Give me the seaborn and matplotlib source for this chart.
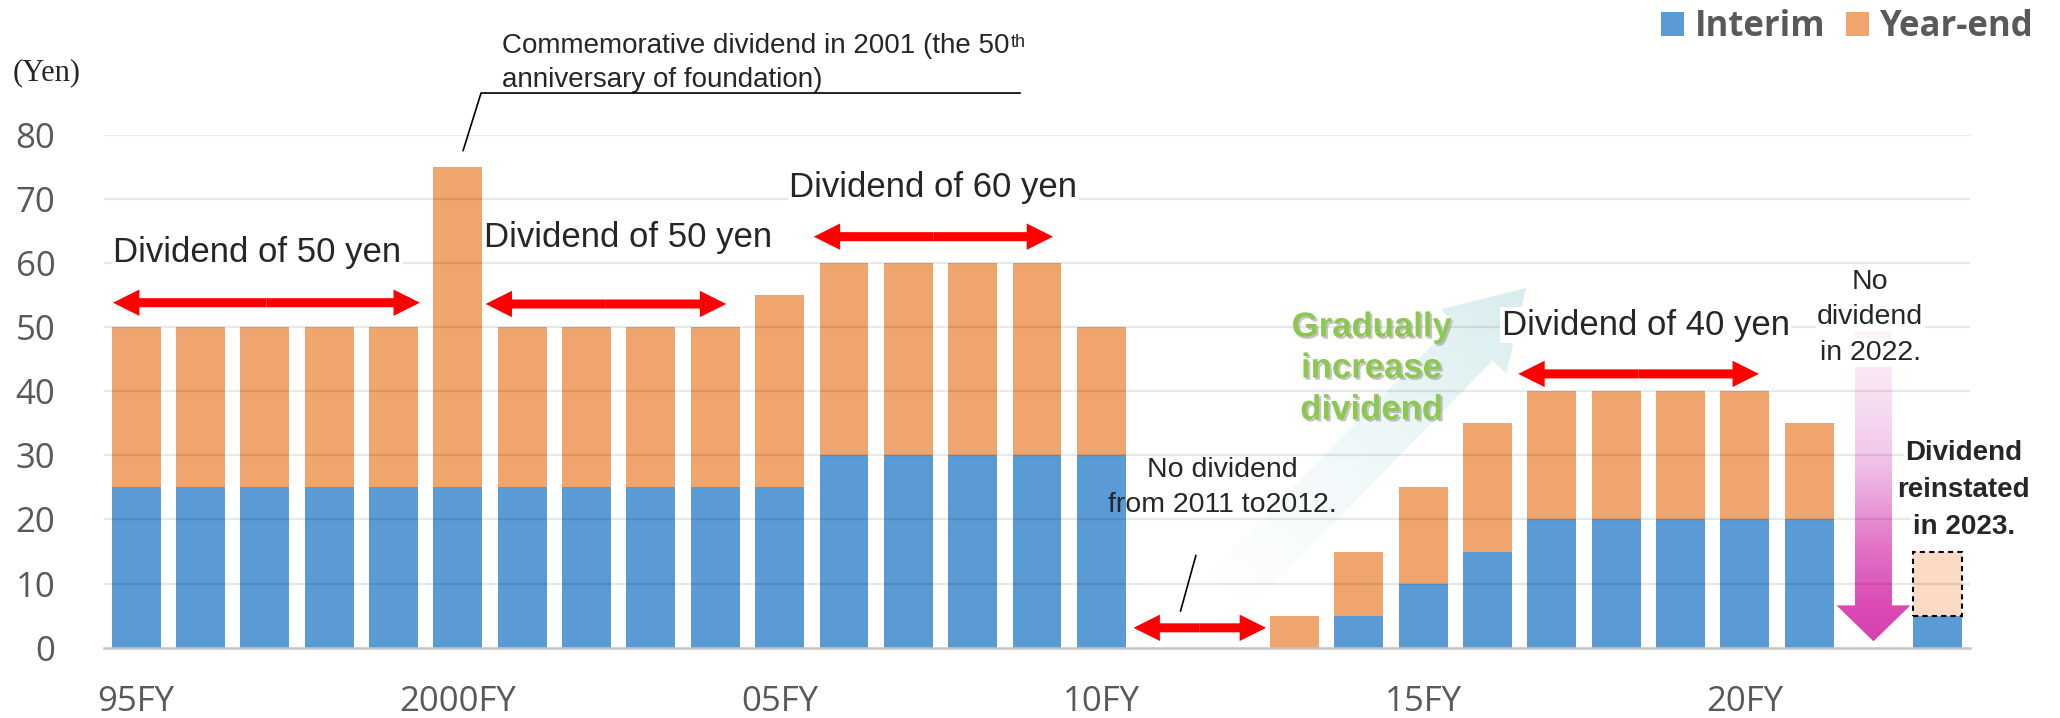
import numpy as np
import pandas as pd
import matplotlib
matplotlib.use("Agg")
import matplotlib.pyplot as plt
import seaborn as sns
from matplotlib.patches import Polygon, FancyArrowPatch, ArrowStyle, Patch
from matplotlib.font_manager import FontProperties
from matplotlib.colors import LinearSegmentedColormap, to_rgb
import matplotlib.patheffects as pe

# ---------------- data ----------------
fiscal_years = ["1995", "1996", "1997", "1998", "1999", "2000", "2001", "2002",
                "2003", "2004", "2005", "2006", "2007", "2008", "2009", "2010",
                "2011", "2012", "2013", "2014", "2015", "2016", "2017", "2018",
                "2019", "2020", "2021", "2022", "2023"]
interim = [25, 25, 25, 25, 25, 25, 25, 25, 25, 25, 25, 30, 30, 30, 30, 30,
           0, 0, 0, 5, 10, 15, 20, 20, 20, 20, 20, 0, 5]
year_end = [25, 25, 25, 25, 25, 50, 25, 25, 25, 25, 30, 30, 30, 30, 30, 20,
            0, 0, 5, 10, 15, 20, 20, 20, 20, 20, 15, 0, 0]
year_end_forecast = [0, 0, 0, 0, 0, 0, 0, 0, 0, 0, 0, 0, 0, 0, 0, 0,
                     0, 0, 0, 0, 0, 0, 0, 0, 0, 0, 0, 0, 10]
tick_years = ["1995", "2000", "2005", "2010", "2015", "2020"]
tick_labels = ["95FY", "2000FY", "05FY", "10FY", "15FY", "20FY"]
y_ticks = [0, 10, 20, 30, 40, 50, 60, 70, 80]
legend_labels = ["Interim", "Year-end"]

BLUE = "#5B9BD5"
ORANGE = "#F0A46E"
PEACH = "#FDDAC4"
GRAY_TXT = "#595959"
RED = "#FF0000"
GREEN = "#8CC850"

# ---------------- style ----------------
sns.set_style("white")
plt.rcParams["font.family"] = ["Liberation Sans", "DejaVu Sans"]

W, H = 2060, 718
fig = plt.figure(figsize=(W / 100, H / 100), dpi=100)
ax = fig.add_axes([104 / W, 1 - 647.7 / H, (1970 - 104) / W, (647.7 - 134.7) / H])

df = pd.DataFrame({"fy": fiscal_years, "interim": interim, "year_end": year_end})
df["total"] = df["interim"] + df["year_end"]

sns.barplot(data=df, x="fy", y="total", order=fiscal_years, color=ORANGE,
            saturation=1, width=0.76, errorbar=None, linewidth=0, ax=ax)
sns.barplot(data=df, x="fy", y="interim", order=fiscal_years, color=BLUE,
            saturation=1, width=0.76, errorbar=None, linewidth=0, ax=ax)
for p in ax.patches:
    p.set_zorder(1)

# forecast (dashed) year-end bar
pos = np.arange(len(fiscal_years))
fc = np.array(year_end_forecast, dtype=float)
mask = fc > 0
ax.bar(pos[mask], fc[mask], bottom=np.array(interim)[mask], width=0.76,
       facecolor=PEACH, edgecolor="black", linewidth=1.5,
       linestyle=(0, (2.5, 2)), zorder=1.2)

ax.set_xlim(-0.5, len(fiscal_years) - 0.5)
ax.set_ylim(0, 80)
ax.set_xlabel("")
ax.set_ylabel("")
ax.set_xticks([fiscal_years.index(y) for y in tick_years])
ax.set_xticklabels(tick_labels)
ax.set_yticks(y_ticks)
ax.set_yticklabels([str(v) for v in y_ticks])
ax.tick_params(axis="both", length=0, labelsize=25, labelcolor=GRAY_TXT)
ax.tick_params(axis="x", pad=27)
ax.tick_params(axis="y", pad=35)
for lab in ax.get_xticklabels() + ax.get_yticklabels():
    lab.set_fontfamily("Open Sans")

for s in ["left", "right", "top"]:
    ax.spines[s].set_visible(False)
ax.spines["bottom"].set_color("#C4C4C4")
ax.spines["bottom"].set_linewidth(1.8)
ax.set_axisbelow(False)
ax.yaxis.grid(True, color="black", alpha=0.09, linewidth=1.6)
ax.xaxis.grid(False)
ax.yaxis.get_gridlines()[0].set_visible(False)

# ---------------- gradient arrows ----------------
def data_to_px(x, y):
    return ax.transData.transform((x, y))

# light cyan "gradually increase" arrow
tail = data_to_px(17.0, 9.0)
tip = data_to_px(21.6, 56.1)
vec = tip - tail
L = np.hypot(*vec)
u = vec / L
n = np.array([-u[1], u[0]])
base = tip - u * 75
hs, hh = 27, 46
verts_px = [tail + n * hs, base + n * hs, base + n * hh, tip,
            base - n * hh, base - n * hs, tail - n * hs]
verts_d = ax.transData.inverted().transform(np.array(verts_px))
cyan_poly = Polygon(verts_d, closed=True, facecolor="none", edgecolor="none",
                    zorder=0.8)
ax.add_patch(cyan_poly)
x0, y0 = verts_d.min(axis=0)
x1, y1 = verts_d.max(axis=0)
gx, gy = np.meshgrid(np.linspace(x0, x1, 300), np.linspace(y0, y1, 300))
pts = ax.transData.transform(np.column_stack([gx.ravel(), gy.ravel()]))
t = ((pts - tail) @ u / L).reshape(gx.shape)
t = np.clip(t, 0, 1)
rgba = np.zeros(gx.shape + (4,))
rgba[..., :3] = to_rgb("#D3EBEC")
rgba[..., 3] = 0.05 + 0.85 * t ** 1.3
im = ax.imshow(rgba, extent=[x0, x1, y0, y1], origin="lower", aspect="auto",
               zorder=0.8, interpolation="bilinear")
im.set_clip_path(cyan_poly)

# pink "no dividend in 2022" arrow
xc = fiscal_years.index("2022")
p_hs, p_hh, p_head, p_tip, p_top = 0.287, 0.575, 6.6, 1.0, 50.0
pink_verts = [(xc - p_hs, p_top), (xc - p_hs, p_head), (xc - p_hh, p_head),
              (xc, p_tip), (xc + p_hh, p_head), (xc + p_hs, p_head),
              (xc + p_hs, p_top)]
pink_poly = Polygon(pink_verts, closed=True, facecolor="none",
                    edgecolor="none", zorder=2)
ax.add_patch(pink_poly)
pink_cmap = LinearSegmentedColormap.from_list(
    "pink", [(0, "#D641AE"), (0.12, "#DA4CB4"), (0.3, "#E273C6"),
             (0.45, "#EAA2DA"), (0.6, "#F2C9EA"), (0.8, "#F8E3F4"),
             (1.0, "#FDF5FB")])
grad = np.linspace(0, 1, 256).reshape(-1, 1)
im2 = ax.imshow(grad, cmap=pink_cmap, extent=[xc - p_hh, xc + p_hh, p_tip, p_top],
                origin="lower", aspect="auto", zorder=2, interpolation="bilinear")
im2.set_clip_path(pink_poly)

ax.set_xlim(-0.5, len(fiscal_years) - 0.5)
ax.set_ylim(0, 80)

# ---------------- red double arrows ----------------
def red_double_arrow(xa, xb, y):
    xm = (xa + xb) / 2
    style = ArrowStyle.Simple(head_length=19, head_width=19, tail_width=6.5)
    for xe in (xa, xb):
        a = FancyArrowPatch((xm, y), (xe, y), arrowstyle=style, mutation_scale=1,
                            color=RED, linewidth=0, shrinkA=0, shrinkB=0,
                            zorder=4, clip_on=False)
        ax.add_patch(a)

red_double_arrow(-0.36, 4.41, 53.8)
red_double_arrow(5.43, 9.17, 53.6)
red_double_arrow(10.53, 14.25, 64.1)
red_double_arrow(21.48, 25.22, 42.7)
red_double_arrow(15.5, 17.56, 3.1)

# ---------------- texts ----------------
wbox = dict(facecolor="white", edgecolor="none", pad=1)
ax.text(-0.36, 61.6, "Dividend of 50 yen", fontsize=25, va="center", ha="left",
        bbox=wbox, zorder=3)
ax.text(5.41, 63.9, "Dividend of 50 yen", fontsize=25, va="center", ha="left",
        bbox=wbox, zorder=3)
ax.text(10.15, 71.7, "Dividend of 60 yen", fontsize=25, va="center", ha="left",
        bbox=wbox, zorder=3)
ax.text(21.22, 50.3, "Dividend of 40 yen", fontsize=25, va="center", ha="left",
        bbox=wbox, zorder=3)

ax.text(16.88, 27.7, "No dividend", fontsize=20.5, va="center", ha="center",
        bbox=wbox, zorder=3)
ax.text(16.88, 22.3, "from 2011 to2012.", fontsize=20.5, va="center",
        ha="center", zorder=3)
ax.plot([16.23, 16.47], [5.7, 14.4], color="black", linewidth=1.2, zorder=4)

shadow = [pe.withSimplePatchShadow(offset=(1.5, -1.5), shadow_rgbFace="#7f7f7f",
                                   alpha=0.45)]
for txt, yy in [("Gradually", 50.0), ("increase", 43.6), ("dividend", 37.1)]:
    ax.text(19.2, yy, txt, fontsize=25, fontweight="bold", color=GREEN,
            va="center", ha="center", zorder=3, path_effects=shadow)

for txt, yy in [("No", 57.0), ("dividend", 51.6), ("in 2022.", 46.0)]:
    ax.text(26.95, yy, txt, fontsize=20.5, va="center", ha="center", zorder=3,
            bbox=wbox, clip_on=False)

for txt, yy in [("Dividend", 30.3), ("reinstated", 24.6), ("in 2023.", 18.8)]:
    ax.text(28.4, yy, txt, fontsize=20, fontweight="bold", va="center",
            ha="center", zorder=3, bbox=wbox, clip_on=False)

# commemorative note
t1 = ax.text(5.68, 93.9, "Commemorative dividend in 2001 (the 50", fontsize=20,
             va="center", ha="left", clip_on=False)
ax.annotate("th", xy=(1, 1), xycoords=t1, xytext=(1, -1),
            textcoords="offset points", fontsize=13, va="top", ha="left")
ax.text(5.68, 88.5, "anniversary of foundation)", fontsize=20, va="center",
        ha="left", clip_on=False)
ax.plot([5.08, 5.36, 13.74], [77.5, 86.5, 86.5], color="black", linewidth=1.2,
        clip_on=False, zorder=4)

# unit label
fig.text(13 / W, 1 - 73 / H, "(Yen)", fontsize=22, family="Liberation Serif",
         va="center", ha="left")

# legend
handles = [Patch(facecolor=BLUE, edgecolor="none"),
           Patch(facecolor=ORANGE, edgecolor="none")]
fig.legend(handles, legend_labels, loc="upper right",
           bbox_to_anchor=(2034 / W, 1 - 9 / H), ncol=2, frameon=False,
           prop=FontProperties(family="Open Sans", weight="bold", size=25),
           labelcolor=GRAY_TXT, handlelength=0.66, handleheight=0.66,
           handletextpad=0.32, columnspacing=0.6, borderpad=0, borderaxespad=0)

fig.savefig("out.png", dpi=100)
